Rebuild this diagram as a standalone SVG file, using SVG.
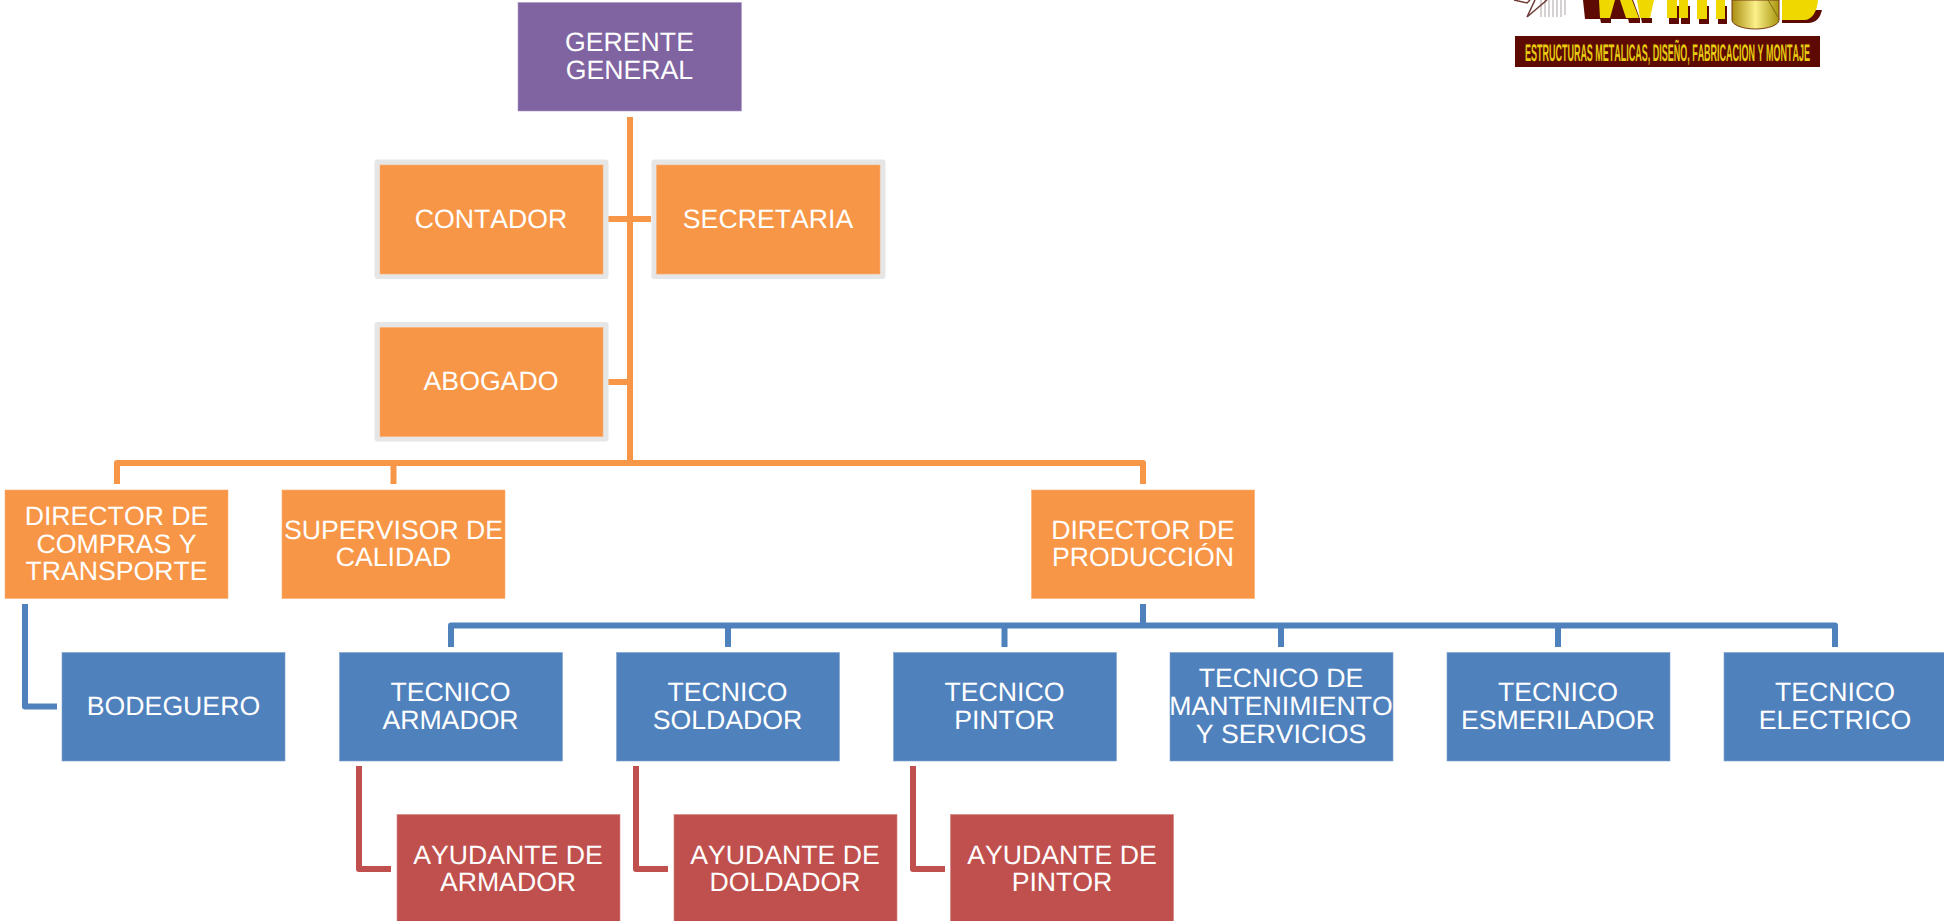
<svg xmlns="http://www.w3.org/2000/svg" width="1944" height="921" viewBox="0 0 1944 921">
<style>
text{font-family:"Liberation Sans",Arial,sans-serif;font-size:26.67px;fill:#fff;text-anchor:middle;font-kerning:none;text-rendering:geometricPrecision}
.o{fill:#F79646;stroke:#FAAE72;stroke-width:.6}
.p{fill:#8064A2;stroke:#AE9AC6;stroke-width:.6}
.b{fill:#4F81BD;stroke:#7FA2CE;stroke-width:.6}
.r{fill:#C0504D;stroke:#D58381;stroke-width:.6}
.g{fill:#E6E6E6}
.co,.cb,.cr{fill:none;stroke-width:6;stroke-linejoin:round}
.co{stroke:#F79646}
.cb{stroke:#4F81BD}
.cr{stroke:#C0504D}
.m{fill:#5C0A02}
.y{fill:#EFD800}
.h{stroke:#BDB4B4;stroke-width:1.2;fill:none}
</style>
<defs>
<linearGradient id="cyl" x1="0" y1="0" x2="1" y2="0">
<stop offset="0" stop-color="#A88E10"/><stop offset="0.5" stop-color="#FBF08A"/><stop offset="1" stop-color="#A8960F"/>
</linearGradient>
</defs>

<g id="connectors">
<path class="co" d="M630 117V463"/>
<path class="co" d="M608 219H651"/>
<path class="co" d="M608 382H630"/>
<path class="co" d="M117 484V463H1143V484"/>
<path class="co" d="M393.500 463V484"/>
<path class="cb" d="M25 604V706.500H57"/>
<path class="cb" d="M1143 604V625.500"/>
<path class="cb" d="M451 647V625.500H1835V647"/>
<path class="cb" d="M728 625.500V647"/>
<path class="cb" d="M1004.500 625.500V647"/>
<path class="cb" d="M1281 625.500V647"/>
<path class="cb" d="M1558 625.500V647"/>
<path class="cr" d="M359 766V869H391"/>
<path class="cr" d="M636 766V869H668"/>
<path class="cr" d="M913 766V869H945"/>
</g>

<g id="gerente-general"><rect class="p" x="518" y="2.500" width="223.500" height="108.500"/><text x="629.500" y="51">GERENTE</text><text x="629.500" y="79">GENERAL</text></g>
<g id="contador"><rect class="g" x="374.500" y="159.500" width="234" height="119.500" rx="3"/><rect class="o" x="380" y="165" width="223" height="109"/><text x="491" y="228">CONTADOR</text></g>
<g id="secretaria"><rect class="g" x="651.500" y="159.500" width="234" height="119.500" rx="3"/><rect class="o" x="656.500" y="165" width="223.500" height="109"/><text x="768" y="228">SECRETARIA</text></g>
<g id="abogado"><rect class="g" x="374.500" y="322" width="234" height="119.500" rx="3"/><rect class="o" x="380" y="327.500" width="223" height="109"/><text x="491" y="390">ABOGADO</text></g>

<g id="director-compras"><rect class="o" x="5" y="490" width="223" height="108.500"/><text x="116.500" y="525">DIRECTOR DE</text><text x="116.500" y="552.500">COMPRAS Y</text><text x="116.500" y="580">TRANSPORTE</text></g>
<g id="supervisor-calidad"><rect class="o" x="282" y="490" width="223" height="108.500"/><text x="393.500" y="539">SUPERVISOR DE</text><text x="393.500" y="566">CALIDAD</text></g>
<g id="director-produccion"><rect class="o" x="1031.500" y="490" width="223" height="108.500"/><text x="1143" y="539">DIRECTOR DE</text><text x="1143" y="566">PRODUCCIÓN</text></g>

<g id="bodeguero"><rect class="b" x="62" y="652.500" width="223" height="108.500"/><text x="173.500" y="715">BODEGUERO</text></g>
<g id="tecnico-armador"><rect class="b" x="339.500" y="652.500" width="223" height="108.500"/><text x="450.500" y="701">TECNICO</text><text x="450.500" y="729">ARMADOR</text></g>
<g id="tecnico-soldador"><rect class="b" x="616.500" y="652.500" width="223" height="108.500"/><text x="727.500" y="701">TECNICO</text><text x="727.500" y="729">SOLDADOR</text></g>
<g id="tecnico-pintor"><rect class="b" x="893.500" y="652.500" width="223" height="108.500"/><text x="1004.500" y="701">TECNICO</text><text x="1004.500" y="729">PINTOR</text></g>
<g id="tecnico-mantenimiento"><rect class="b" x="1170" y="652.500" width="223" height="108.500"/><text x="1281" y="687">TECNICO DE</text><text x="1281" y="715">MANTENIMIENTO</text><text x="1281" y="743">Y SERVICIOS</text></g>
<g id="tecnico-esmerilador"><rect class="b" x="1447" y="652.500" width="223" height="108.500"/><text x="1558" y="701">TECNICO</text><text x="1558" y="729">ESMERILADOR</text></g>
<g id="tecnico-electrico"><rect class="b" x="1724" y="652.500" width="223.500" height="108.500"/><text x="1835" y="701">TECNICO</text><text x="1835" y="729">ELECTRICO</text></g>

<g id="ayudante-armador"><rect class="r" x="397" y="814.500" width="223" height="110"/><text x="508" y="864">AYUDANTE DE</text><text x="508" y="891">ARMADOR</text></g>
<g id="ayudante-soldador"><rect class="r" x="674" y="814.500" width="223" height="110"/><text x="785" y="864">AYUDANTE DE</text><text x="785" y="891">DOLDADOR</text></g>
<g id="ayudante-pintor"><rect class="r" x="950.500" y="814.500" width="223" height="110"/><text x="1062" y="864">AYUDANTE DE</text><text x="1062" y="891">PINTOR</text></g>

<g id="logo">
<path class="h" d="M1541 0V17M1545 0V17M1549 0V17M1553 0V17M1557 0V17M1561 0V17M1565 0V15"/>
<path d="M1514 0L1527 3L1530 0M1527 17L1547 0M1527 17L1535 0" fill="none" stroke="#6E3A36" stroke-width="1.500"/>
<path class="m" d="M1583 0H1633L1640 19H1585Z"/>
<path class="m" d="M1600 18H1611V23H1601ZM1628 18H1640V23H1629ZM1641 18H1652V23H1642Z"/>
<path class="y" d="M1599 0H1615L1610 18H1600ZM1620 0H1632L1639 18H1626ZM1637 0H1654L1650 18H1640Z"/>
<path class="m" d="M1669 6H1679V24H1669ZM1681 6H1690V24H1681ZM1699 6H1709V24H1699ZM1718 6H1727V24H1718Z"/>
<path class="y" d="M1667 0H1677V18H1667ZM1679 0H1688V18H1679ZM1697 0H1707V19H1697ZM1716 0H1725V19H1716Z"/>
<path class="m" d="M1782 10H1822C1820 18 1816 23 1808 23H1782Z"/>
<path class="y" d="M1782 0H1818C1817 12 1812 20 1804 20H1782Z"/>
<path d="M1732 0H1779V20C1779 25 1768 29 1755.500 29C1743 29 1732 25 1732 20Z" fill="url(#cyl)" stroke="#7A3A10" stroke-width="1"/>
<path d="M1768 0L1778 17" stroke="#7A6A10" stroke-width="1" fill="none"/>
<rect class="m" x="1515" y="36" width="305" height="31"/>
<text transform="translate(1525 61) scale(.37 1)" x="0" y="0" textLength="770" lengthAdjust="spacingAndGlyphs" style="font-size:24px;font-weight:bold;fill:#E8CC10;text-anchor:start">ESTRUCTURAS METALICAS, DISEÑO, FABRICACION Y MONTAJE</text>
</g>
</svg>
